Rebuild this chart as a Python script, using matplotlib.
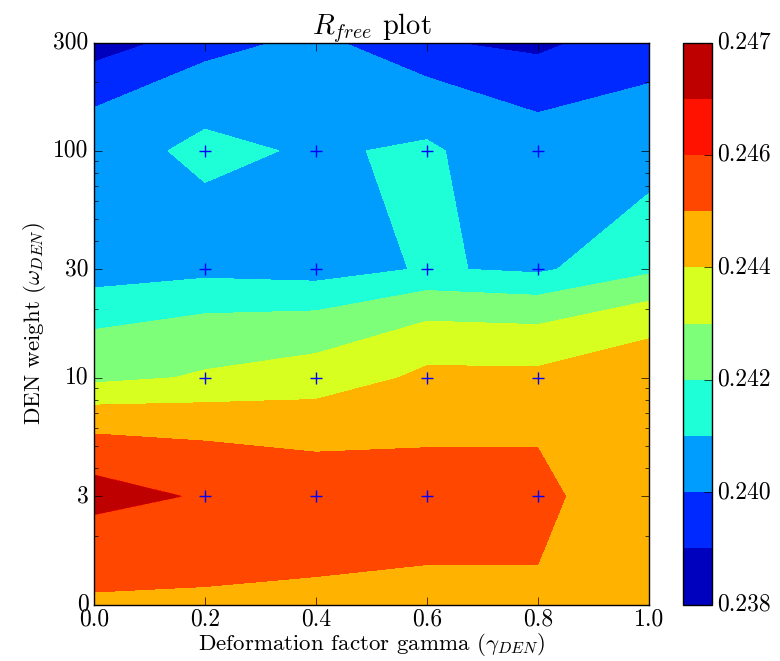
import numpy as np
import matplotlib
matplotlib.use('Agg')
import matplotlib.pyplot as plt
from matplotlib.ticker import NullFormatter

plt.style.use('classic')
plt.rcParams.update({
    'figure.facecolor': 'white', 'savefig.facecolor': 'white',
    'font.family': 'serif', 'font.serif': ['cmr10', 'DejaVu Serif'],
    'mathtext.fontset': 'cm', 'axes.unicode_minus': False,
    'font.size': 17, 'axes.titlesize': 20.5, 'axes.labelsize': 16.5,
    'xtick.labelsize': 17, 'ytick.labelsize': 17,
    'xtick.major.size': 6, 'ytick.major.size': 6,
    'ytick.minor.size': 3,
})

gamma = [0.0, 0.2, 0.4, 0.6, 0.8, 1.0]
weights = [1, 3, 10, 30, 100, 300]
weight_labels = ['0', '3', '10', '30', '100', '300']
# rows: weights, columns: gamma
rfree_w0 = [0.2449, 0.2449, 0.2449, 0.2449, 0.2449, 0.2444]
rfree_w3 = [0.24638, 0.2459, 0.24551, 0.2453, 0.2453, 0.2441]
rfree_w10 = [0.24273, 0.24310, 0.24340, 0.2442, 0.2442, 0.2447]
rfree_w30 = [0.2404, 0.24069, 0.24051, 0.2411, 0.24083, 0.2418]
rfree_w100 = [0.2406, 0.2412, 0.2409, 0.24112, 0.2404, 0.24019]
rfree_w300 = [0.23841, 0.23956, 0.24029, 0.2391, 0.2387, 0.2398]
levels = [0.238, 0.239, 0.240, 0.241, 0.242, 0.243, 0.244, 0.245, 0.246, 0.24601, 0.247]
sampled_gamma = [0.2, 0.4, 0.6, 0.8]
sampled_w = [3, 10, 30, 100]

Z = np.array([rfree_w0, rfree_w3, rfree_w10, rfree_w30, rfree_w100, rfree_w300])
X, Y = np.meshgrid(gamma, weights)

fig = plt.figure(figsize=(7.8, 6.61), dpi=100)
ax = fig.add_axes([94/780, 1-604.5/661, (648.7-94)/780, (604.5-42.5)/661])
cax = fig.add_axes([682.7/780, 1-604.5/661, 29/780, (604.5-42.5)/661])

cs = ax.contourf(X, Y, Z, levels=levels, cmap='jet')
ax.set_yscale('log')
SX, SY = np.meshgrid(sampled_gamma, sampled_w)
ax.plot(SX.ravel(), SY.ravel(), '+', color='b', ms=8, mew=1)
ax.set_xlim(0, 1)
ax.set_ylim(weights[0], weights[-1])
ax.set_yticks(weights)
ax.set_yticklabels(weight_labels)
ax.yaxis.set_minor_formatter(NullFormatter())
ax.set_xticks(gamma)
ax.set_xticklabels(['%.1f' % g for g in gamma])
ax.tick_params(axis='x', pad=3)
ax.set_xlabel(r'Deformation factor gamma ($\gamma_{DEN}$)', labelpad=0.5)
ax.set_ylabel(r'DEN weight ($\omega_{DEN}$)', labelpad=4)
ax.set_title(r'$R_{free}$ plot', pad=6)

cb = fig.colorbar(cs, cax=cax)
cb.set_ticks(levels[::2])
cb.set_ticklabels(['%.3f' % v for v in levels[::2]])
cb.ax.tick_params(length=6)

fig.savefig('out.png', dpi=100)
